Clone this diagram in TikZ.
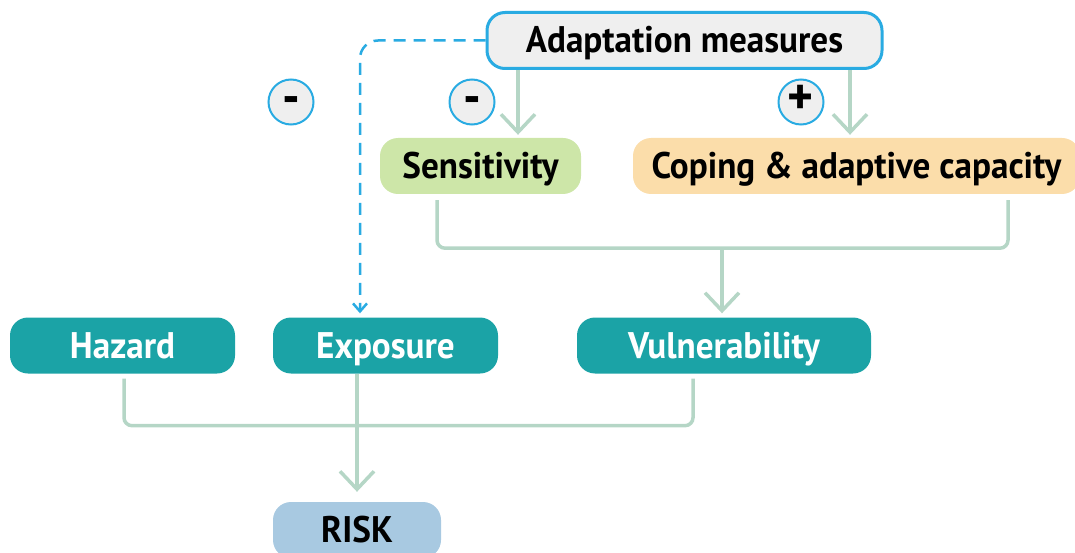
\documentclass[tikz,border=0pt]{standalone}
\usepackage{fontspec}
\setmainfont[FakeStretch=0.95]{PT Sans}
\usetikzlibrary{arrows.meta,calc}
\definecolor{teal1}{HTML}{1BA3A6}
\definecolor{linegr}{HTML}{B5D6C6}
\definecolor{blue1}{HTML}{29ABE2}
\definecolor{lgray}{HTML}{EFEFEF}
\definecolor{sensgr}{HTML}{CDE6A8}
\definecolor{copor}{HTML}{FBDDAA}
\definecolor{riskbl}{HTML}{A8C9E1}
\tikzset{
  box/.style={rounded corners=18pt, minimum height=56pt, inner sep=0pt, text height=25pt, text depth=0pt, font=\fontsize{37}{44}\selectfont\bfseries},
  tealbox/.style={box, fill=teal1, text=white},
  sign/.style={circle, draw=blue1, line width=2pt, fill=lgray, minimum size=45pt, inner sep=0pt, text height=26pt, text depth=0pt, font=\fontsize{52}{56}\selectfont\bfseries},
  flow/.style={draw=linegr, line width=3.5pt, rounded corners=8pt},
  flowarrow/.style={flow, -{Straight Barb[length=18pt,width=34pt,line width=3.5pt]}},
  dasharrow/.style={draw=blue1, line width=2.5pt, dash pattern=on 12pt off 8pt, rounded corners=18pt, -{Straight Barb[length=8pt,width=14pt,line width=2.5pt]}}
}
\begin{document}
\begin{tikzpicture}[x=1pt,y=-1pt]
\useasboundingbox (0,0) rectangle (1075,553);
\clip (0,0) rectangle (1075,553);
\node[box, draw=blue1, line width=3pt, fill=lgray, minimum width=395pt] (adapt) at (684.5,40.5) {Adaptation measures};
\node[box, fill=sensgr, minimum width=201pt] (sens) at (480.5,166) {Sensitivity};
\node[box, fill=copor, minimum width=447pt] (coping) at (856.5,166) {Coping \& adaptive capacity};
\node[tealbox, minimum width=225pt] (hazard) at (122.5,345.5) {Hazard};
\node[tealbox, minimum width=225pt] (exposure) at (385.5,345.5) {Exposure};
\node[tealbox, minimum width=294pt] (vuln) at (724,345.5) {Vulnerability};
\node[box, fill=riskbl, minimum width=168pt] (risk) at (357,530) {RISK};
\node[sign] (m1) at (291,102) {-};
\node[sign] (m2) at (472,102) {-};
\node[sign] (p1) at (801,102) {+};
% adaptation arrows
\draw[flowarrow] ([xshift=-166.5pt]adapt.south) -- ([xshift=37.5pt,yshift=3pt]sens.north);
\draw[flowarrow] ([xshift=165.5pt]adapt.south) -- ([xshift=-6.5pt,yshift=3pt]coping.north);
% sensitivity / coping bracket
\coordinate (vj) at ($(sens.south)!0.5!(coping.south)$);
\draw[flow] ([xshift=-43.5pt,yshift=-6pt]sens.south) |- ([yshift=-54pt]vj -| vuln.north)
  -| ([xshift=151.5pt,yshift=-6pt]coping.south);
\draw[flowarrow] ([xshift=-2pt,yshift=-54pt]vj -| vuln.north) -- ([xshift=-2pt,yshift=4pt]vuln.north);
% hazard / vulnerability bracket
\draw[flow] ([xshift=1.5pt,yshift=-5pt]hazard.south) |- ([yshift=-52pt]exposure.south)
  -| ([xshift=-31pt,yshift=-5pt]vuln.south);
\draw[flowarrow] ([xshift=-28.5pt]exposure.south) -- ([xshift=0pt,yshift=10pt]risk.north);
% dashed
\draw[dasharrow] (adapt.west) -| ([xshift=-25.5pt,yshift=4pt]exposure.north);
\end{tikzpicture}
\end{document}
